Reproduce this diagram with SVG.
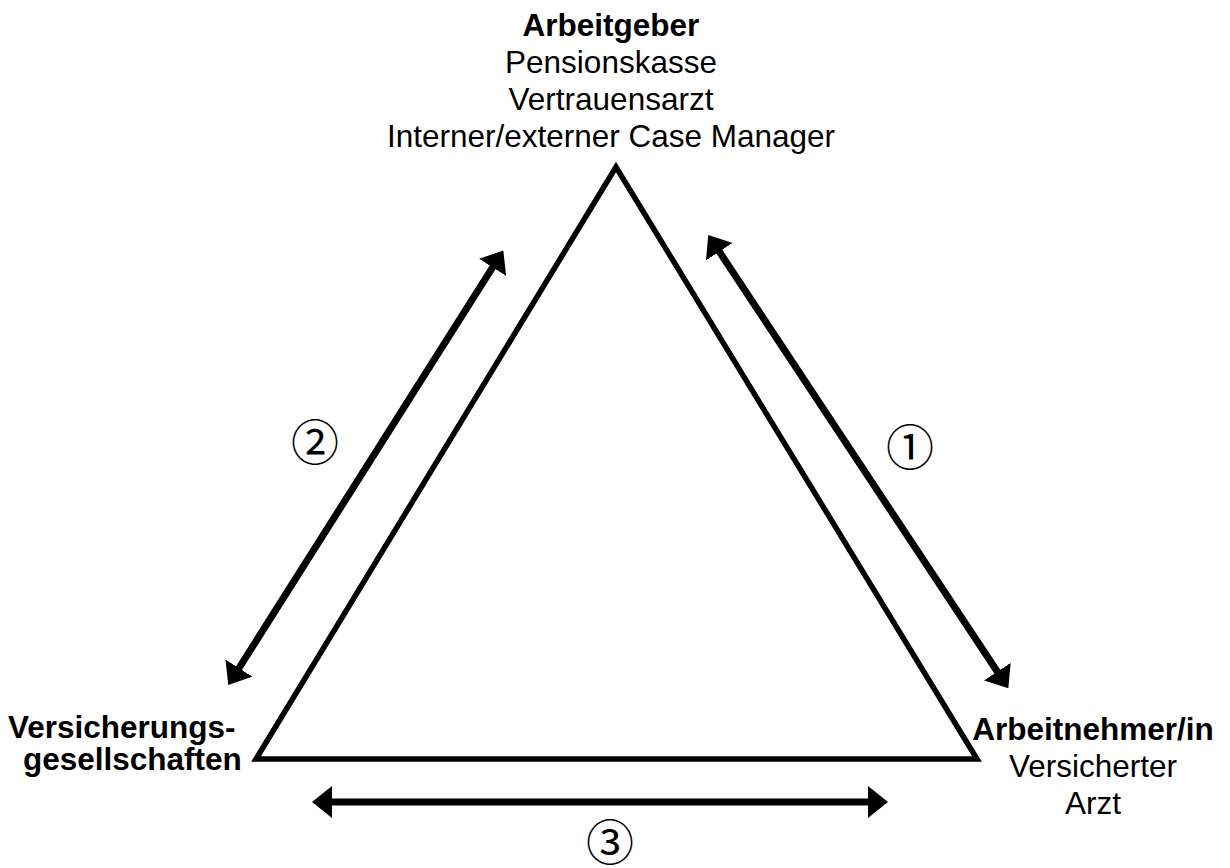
<svg xmlns="http://www.w3.org/2000/svg" width="1230" height="868" viewBox="0 0 1230 868">
<style>
text{font-family:"Liberation Sans",Arial,sans-serif;font-size:31.5px;fill:#000}
.b{font-weight:bold}
.c{text-anchor:middle}
.num{font-family:"DejaVu Serif","Noto Sans CJK JP",serif;font-size:48px;text-anchor:middle;dominant-baseline:central}
.tri{fill:none;stroke:#000;stroke-width:5.5;stroke-linejoin:miter}
.arr{stroke:#000;stroke-width:7;fill:none;marker-start:url(#ah);marker-end:url(#ah)}
</style>
<defs>
<marker id="ah" viewBox="0 0 20 32" refX="2" refY="16" markerWidth="20" markerHeight="32" markerUnits="userSpaceOnUse" orient="auto-start-reverse">
<path d="M0,0 L20,16 L0,32 Z" fill="#000"/>
</marker>
</defs>
<rect width="1230" height="868" fill="#fff"/>
<g id="triangle"><polygon class="tri" points="616,167 256,759 977,759"/></g>
<g id="connectors">
<line class="arr" x1="718.2" y1="250" x2="998.4" y2="673.3"/>
<line class="arr" x1="237.9" y1="669.8" x2="493.7" y2="265.7"/>
<line class="arr" x1="330" y1="802" x2="870" y2="802"/>
</g>
<g id="node-arbeitgeber">
<text class="c b" x="611" y="36">Arbeitgeber</text>
<text class="c" x="611" y="73">Pensionskasse</text>
<text class="c" x="611" y="110">Vertrauensarzt</text>
<text class="c" x="611" y="147">Interner/externer Case Manager</text>
</g>
<g id="node-versicherung">
<text class="b" x="8" y="738">Versicherungs-</text>
<text class="b" x="23" y="770">gesellschaften</text>
</g>
<g id="node-arbeitnehmer">
<text class="c b" x="1093" y="740">Arbeitnehmer/in</text>
<text class="c" x="1093" y="777">Versicherter</text>
<text class="c" x="1093" y="814">Arzt</text>
</g>
<g id="labels">
<text class="num" x="910" y="448">①</text>
<text class="num" x="315" y="443">②</text>
<text class="num" x="610" y="843">③</text>
</g>
</svg>
